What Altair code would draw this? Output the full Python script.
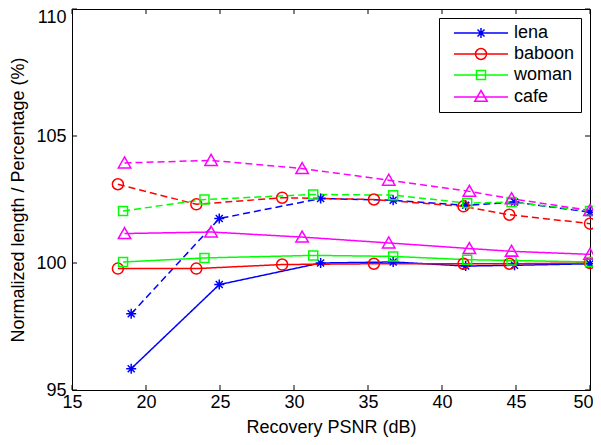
import altair as alt
import pandas as pd

# ---- data ----
images = ["lena", "baboon", "woman", "cafe"]
colors = ["#0000ff", "#ff0000", "#00ff00", "#ff00ff"]

lena_x = [19.0, 24.95, 31.8, 36.7, 41.6, 44.9, 50.0]
lena_solid = [95.84, 99.15, 100.0, 100.04, 99.88, 99.91, 99.97]
lena_dashed = [98.0, 101.75, 102.54, 102.47, 102.27, 102.4, 102.0]

baboon_x = [18.1, 23.4, 29.2, 35.4, 41.45, 44.55, 50.0]
baboon_solid = [99.78, 99.78, 99.94, 99.97, 99.97, 99.97, 100.0]
baboon_dashed = [103.1, 102.31, 102.57, 102.5, 102.23, 101.9, 101.55]

woman_x = [18.45, 23.95, 31.3, 36.7, 41.7, 44.7, 50.0]
woman_solid = [100.04, 100.2, 100.3, 100.26, 100.13, 100.1, 100.04]
woman_dashed = [102.05, 102.5, 102.7, 102.67, 102.36, 102.4, 102.05]

cafe_x = [18.55, 24.4, 30.55, 36.4, 41.85, 44.7, 50.0]
cafe_solid = [101.16, 101.22, 101.02, 100.79, 100.57, 100.46, 100.34]
cafe_dashed = [103.94, 104.04, 103.72, 103.26, 102.82, 102.53, 102.07]

x_ticks = [15, 20, 25, 30, 35, 40, 45, 50]
y_ticks = [95, 100, 105, 110]

series = {
    "lena": (lena_x, lena_solid, lena_dashed),
    "baboon": (baboon_x, baboon_solid, baboon_dashed),
    "woman": (woman_x, woman_solid, woman_dashed),
    "cafe": (cafe_x, cafe_solid, cafe_dashed),
}

rows = []
for name, (xs, ys, yd) in series.items():
    for x, y in zip(xs, ys):
        rows.append({"image": name, "kind": "solid", "psnr": x, "value": y})
    for x, y in zip(xs, yd):
        rows.append({"image": name, "kind": "dashed", "psnr": x, "value": y})
df = pd.DataFrame(rows)

# marker shapes (unit paths)
marker_paths = [
    "M -1 0 L 1 0 M 0 -1 L 0 1 M -0.7 -0.7 L 0.7 0.7 M -0.7 0.7 L 0.7 -0.7",
    "M 1.1 0 A 1.1 1.1 0 1 1 -1.1 0 A 1.1 1.1 0 1 1 1.1 0 Z",
    "M -0.9 -0.9 L 0.9 -0.9 L 0.9 0.9 L -0.9 0.9 Z",
    "M 0 -1.2 L 1.25 1 L -1.25 1 Z",
]
# legend symbols: line + marker
legend_paths = [
    "M 0 0 L 10.8 0 M 4.4 0 L 6.4 0 M 5.4 -1 L 5.4 1 M 4.7 -0.7 L 6.1 0.7 M 4.7 0.7 L 6.1 -0.7",
    "M 0 0 L 10.8 0 M 6.5 0 A 1.1 1.1 0 1 1 4.3 0 A 1.1 1.1 0 1 1 6.5 0 Z",
    "M 0 0 L 10.8 0 M 4.5 -0.9 L 6.3 -0.9 L 6.3 0.9 L 4.5 0.9 Z",
    "M 0 0 L 10.8 0 M 5.4 -1.3 L 6.65 0.85 L 4.15 0.85 Z",
]

W, H = 518, 381
FONT = "Liberation Sans"
FS = 18

xscale = alt.Scale(domain=[15, 50], nice=False, zero=False)
yscale = alt.Scale(domain=[95, 110], nice=False, zero=False)
cscale = alt.Scale(domain=images, range=colors)

X = alt.X("psnr:Q", scale=xscale,
          axis=alt.Axis(values=x_ticks, title="Recovery PSNR (dB)", labelPadding=3, titlePadding=7,
                        labelFlush=False,
                        labelOffset={"condition": {"test": "datum.value == 50", "value": -7}, "value": 0}))
Y = alt.Y("value:Q", scale=yscale,
          axis=alt.Axis(values=y_ticks, title="Normalized length / Percentage (%)",
                        labelPadding=6, titlePadding=8, labelFlush=False,
                        labelOffset={"condition": {"test": "datum.value == 110", "value": 8}, "value": 0}))

base = alt.Chart(df)

lines = base.mark_line(strokeWidth=1.5).encode(
    x=X, y=Y,
    color=alt.Color("image:N", scale=cscale, legend=None),
    strokeDash=alt.StrokeDash("kind:N", scale=alt.Scale(domain=["solid", "dashed"], range=[[1, 0], [7, 4]]), legend=None),
    detail="kind:N",
)

points = base.mark_point(filled=False, size=100, strokeWidth=1.5, opacity=1).encode(
    x="psnr:Q", y="value:Q",
    color=alt.Color("image:N", scale=cscale, legend=None),
    shape=alt.Shape("image:N", scale=alt.Scale(domain=images, range=marker_paths), legend=None),
)

legend_layer = base.mark_point(filled=False, size=100, strokeWidth=1.5, opacity=0).encode(
    x="psnr:Q", y="value:Q",
    color=alt.Color("image:N", scale=cscale, legend=alt.Legend(title=None)),
    shape=alt.Shape("image:N", scale=alt.Scale(domain=images, range=legend_paths),
                    legend=alt.Legend(title=None)),
)

xt = pd.DataFrame({"t": x_ticks})
yt = pd.DataFrame({"t": y_ticks})
tick_bottom = alt.Chart(xt).mark_rule(color="black", strokeWidth=1).encode(
    x=alt.X("t:Q", scale=xscale), y=alt.value(H), y2=alt.value(H - 5))
tick_top = alt.Chart(xt).mark_rule(color="black", strokeWidth=1).encode(
    x=alt.X("t:Q", scale=xscale), y=alt.value(0), y2=alt.value(5))
tick_left = alt.Chart(yt).mark_rule(color="black", strokeWidth=1).encode(
    y=alt.Y("t:Q", scale=yscale), x=alt.value(0), x2=alt.value(5))
tick_right = alt.Chart(yt).mark_rule(color="black", strokeWidth=1).encode(
    y=alt.Y("t:Q", scale=yscale), x=alt.value(W - 5), x2=alt.value(W))

chart = alt.layer(
    tick_bottom, tick_top, tick_left, tick_right, lines, points, legend_layer
).resolve_scale(
    shape="independent", color="independent"
).properties(
    width=W, height=H,
    autosize=alt.AutoSizeParams(type="none"),
    padding={"left": 64, "top": 1, "right": 3, "bottom": 47},
).configure_view(
    stroke="black", strokeWidth=1
).configure_axis(
    grid=False, domain=False, ticks=False, tickSize=0,
    labelFont=FONT, labelFontSize=FS, labelColor="black",
    titleFont=FONT, titleFontSize=FS, titleFontWeight="normal", titleColor="black",
).configure_legend(
    orient="top-right", offset=9, padding=6,
    fillColor="white", strokeColor="black",
    labelFont=FONT, labelFontSize=FS, labelColor="black", labelLimit=200,
    symbolSize=100, symbolStrokeWidth=1.5, symbolOpacity=1, symbolFillColor="transparent",
    labelOffset=51, rowPadding=3,
)

chart.save("out.html", embed_options={"renderer": "svg", "actions": False})
